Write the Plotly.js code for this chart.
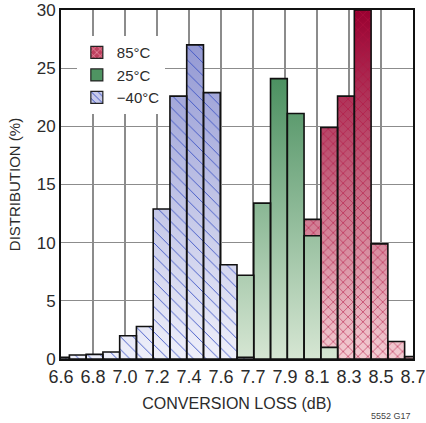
<!DOCTYPE html>
<html>
<head>
<meta charset="utf-8">
<script src="https://cdn.plot.ly/plotly-3.0.1.min.js"></script>
<style>
  html, body { margin: 0; padding: 0; background: #fff; }
  #chart { width: 426px; height: 423px; }
</style>
</head>
<body>
<div id="chart"></div>
<script>
// Bin centres (dB), 0.1 dB bins
const binCenters = [6.6, 6.7, 6.8, 6.9, 7.0, 7.1, 7.2, 7.3, 7.4, 7.5, 7.6,
                    7.7, 7.8, 7.9, 8.0, 8.1, 8.2, 8.3, 8.4, 8.5, 8.6, 8.7];
// Distribution (%) per bin
const dist85 = [0, 0, 0, 0, 0, 0, 0, 0, 0, 0, 0,
                0, 0, 0, 0, 12.0, 19.9, 22.6, 30.0, 9.9, 1.5, 0.2];
const dist25 = [0, 0, 0, 0, 0, 0, 0, 0, 0, 0, 0,
                7.2, 13.4, 24.1, 21.1, 10.6, 1.0, 0, 0, 0, 0, 0];
const distM40 = [0.15, 0.35, 0.4, 0.6, 2.0, 2.8, 12.9, 22.6, 27.0, 22.9, 8.1,
                 0.15, 0, 0, 0, 0, 0, 0, 0, 0, 0, 0];
// Tick labels as printed on the original axis (evenly spaced)
const xTickLabels = ['6.6', '6.8', '7.0', '7.2', '7.4', '7.6', '7.7', '7.9', '8.1', '8.3', '8.5', '8.7'];
const yTickVals = [0, 5, 10, 15, 20, 25, 30];
const seriesNames = ['85°C', '25°C', '\u221240°C'];

const binWidth = 0.1;
const xMin = binCenters[0], xMax = binCenters[binCenters.length - 1];
const tickVals = xTickLabels.map((_, j) => xMin + j * (xMax - xMin) / (xTickLabels.length - 1));

function barOutline(vals) {
  const xs = [], ys = [];
  vals.forEach((v, i) => {
    if (v <= 0) return;
    const a = binCenters[i] - binWidth / 2, b = binCenters[i] + binWidth / 2;
    xs.push(a, a, b, b, a, null);
    ys.push(0, v, v, 0, 0, null);
  });
  return { x: xs, y: ys };
}

const FONT = 'Liberation Sans Narrow, Arial Narrow, Liberation Sans, Arial, sans-serif';
const TXT = '#2b2b2b';

const styles = [
  { vals: dist85, light: '#f4cdd3', dark: '#990030', mid: '#c0405f',
    pattern: { shape: 'x', fgcolor: '#b3103f', bgcolor: 'rgba(0,0,0,0)', size: 7, solidity: 0.15 },
    legPattern: { shape: 'x', fgcolor: '#f0aab8', size: 6, solidity: 0.25 } },
  { vals: dist25, light: '#d6e6d3', dark: '#2a7c45', mid: '#4f9462', pattern: null, legPattern: null },
  { vals: distM40, light: '#eff0fa', dark: '#8a90cf', mid: '#c8cbec',
    pattern: { shape: '\\', fgcolor: '#3b52c4', bgcolor: 'rgba(0,0,0,0)', size: 9, solidity: 0.1 },
    legPattern: { shape: '\\', fgcolor: '#3b52c4', size: 6, solidity: 0.2 } }
];

const traces = [];
styles.forEach((s, k) => {
  const p = barOutline(s.vals);
  traces.push({
    type: 'scatter', mode: 'lines', x: p.x, y: p.y, fill: 'toself',
    line: { width: 0 }, hoverinfo: 'skip', showlegend: false,
    fillgradient: { type: 'vertical', start: 0, stop: 30,
                    colorscale: [[0, s.light], [1, s.dark]] }
  });
  const t = {
    type: 'scatter', mode: 'lines', x: p.x, y: p.y,
    line: { width: 1.6, color: '#111' }, showlegend: false, name: seriesNames[k]
  };
  if (s.pattern) {
    t.fill = 'toself';
    t.fillcolor = 'rgba(0,0,0,0)';
    t.fillpattern = s.pattern;
  }
  traces.push(t);
});
// legend entries (legend swatches only, no plotted value)
styles.forEach((s, k) => {
  const m = { color: s.mid, line: { color: '#222', width: 1.2 } };
  if (s.legPattern) m.pattern = Object.assign({ bgcolor: s.mid }, s.legPattern);
  traces.push({ type: 'bar', x: [xMin], y: [null], name: seriesNames[k], marker: m,
                showlegend: true, hoverinfo: 'skip' });
});

const layout = {
  width: 426, height: 423,
  margin: { l: 61, r: 13, t: 10, b: 64 },
  paper_bgcolor: '#fff', plot_bgcolor: '#fff',
  font: { family: FONT, size: 17, color: TXT },
  showlegend: true,
  legend: { x: 0.045, y: 0.925, xanchor: 'left', yanchor: 'top', bgcolor: '#fff',
            font: { family: FONT, size: 15, color: TXT }, itemwidth: 30,
            tracegroupgap: 0, traceorder: 'normal' },
  xaxis: {
    range: [xMin, xMax], tickvals: tickVals, ticktext: xTickLabels, ticks: '',
    showgrid: true, gridcolor: '#8c8c8c', gridwidth: 1.3, zeroline: false,
    showline: true, mirror: true, linecolor: '#111', linewidth: 2,
    ticklabeloverflow: 'allow',
    tickfont: { family: FONT, size: 18, color: TXT },
    title: { text: 'CONVERSION LOSS (dB)', font: { family: FONT, size: 16, color: TXT }, standoff: 12 }
  },
  yaxis: {
    range: [0, 30], tickvals: yTickVals, ticks: '',
    showgrid: true, gridcolor: '#8c8c8c', gridwidth: 1.3, zeroline: false,
    showline: true, mirror: true, linecolor: '#111', linewidth: 2,
    ticklabeloverflow: 'allow',
    tickfont: { family: FONT, size: 17, color: TXT },
    title: { text: 'DISTRIBUTION (%)', font: { family: FONT, size: 15, color: TXT }, standoff: 12 }
  },
  annotations: [{
    xref: 'paper', yref: 'paper', x: 1.0, y: -0.163, xanchor: 'right', yanchor: 'middle',
    text: '5552 G17', showarrow: false, font: { family: FONT, size: 9, color: '#444' }
  }]
};

Plotly.newPlot('chart', traces, layout, { displayModeBar: false, staticPlot: true });
</script>
</body>
</html>
